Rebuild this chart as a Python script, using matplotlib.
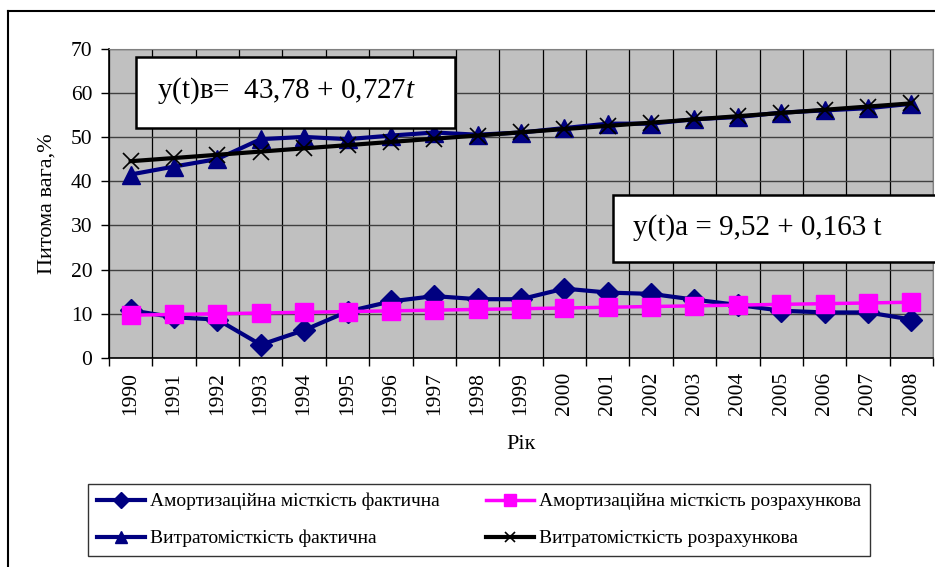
import matplotlib

matplotlib.use("Agg")
import matplotlib.pyplot as plt  # noqa: E402
from matplotlib.lines import Line2D  # noqa: E402
from matplotlib.ticker import FixedLocator  # noqa: E402

plt.rcParams["font.family"] = ["Liberation Serif", "DejaVu Serif"]
plt.rcParams["mathtext.fontset"] = "custom"
plt.rcParams["mathtext.rm"] = "Liberation Serif"
plt.rcParams["mathtext.it"] = "Liberation Serif:italic"

years = [str(y) for y in range(1990, 2009)]
amort_fact = [10.8, 9.2, 8.7, 3.0, 6.3, 10.5, 12.8, 14.0, 13.3, 13.3,
              15.7, 14.8, 14.5, 13.2, 12.0, 10.7, 10.3, 10.3, 8.7]
amort_calc = [9.68, 9.85, 10.01, 10.17, 10.34, 10.50, 10.66, 10.82, 10.99, 11.15,
              11.31, 11.48, 11.64, 11.80, 11.97, 12.13, 12.29, 12.45, 12.62]
cost_fact = [41.5, 43.3, 45.0, 49.5, 50.0, 49.5, 50.3, 51.0, 50.5, 51.0,
             52.0, 53.0, 53.0, 54.0, 54.5, 55.5, 56.0, 56.5, 57.5]
cost_calc = [44.51, 45.23, 45.96, 46.69, 47.42, 48.14, 48.87, 49.60, 50.32, 51.05,
             51.78, 52.50, 53.23, 53.96, 54.69, 55.41, 56.14, 56.87, 57.59]
yticks = [0, 10, 20, 30, 40, 50, 60, 70]

labels = [
    "Амортизаційна місткість фактична",
    "Витратомісткість фактична",
    "Амортизаційна місткість розрахункова",
    "Витратомісткість розрахункова",
]

W, H = 935, 567
fig = plt.figure(figsize=(W / 100, H / 100), dpi=100)
fig.patch.set_facecolor("white")
ax = fig.add_axes([109 / W, 1 - 358 / H, (933 - 109) / W, (358 - 48.5) / H])
ax.set_facecolor("#c0c0c0")

x = list(range(len(years)))
navy = "#000080"
l1, = ax.plot(x, amort_fact, color=navy, lw=3, marker="D", ms=11, zorder=3)
l3, = ax.plot(x, amort_calc, color="#ff00ff", lw=2.5, marker="s", ms=12.5, zorder=4)
l2, = ax.plot(x, cost_fact, color=navy, lw=3, marker="^", ms=13, zorder=3)
l4, = ax.plot(x, cost_calc, color="black", lw=3, marker="x", ms=11, mew=1.2, zorder=5)

ax.set_xlim(-0.5, len(years) - 0.5)
ax.set_ylim(0, 70)
ax.set_yticks(yticks)
ax.set_xticks(x)
ax.set_xticklabels(years, rotation=90, fontsize=15.5)
ax.xaxis.set_minor_locator(FixedLocator([i + 0.5 for i in range(-1, len(years))]))
ax.tick_params(axis="x", which="major", length=0, pad=10)
ax.tick_params(axis="x", which="minor", length=6, width=1, color="black", direction="out")
ax.tick_params(axis="y", labelsize=15.5, length=6, width=1, direction="out", pad=6)
ax.grid(axis="y", which="major", color="#404040", lw=1)
ax.grid(axis="x", which="minor", color="black", lw=0.9)
ax.set_axisbelow(True)
for side in ("top", "right"):
    ax.spines[side].set_color("#808080")
for side in ("left", "bottom"):
    ax.spines[side].set_color("black")
    ax.spines[side].set_linewidth(1.2)

ax.set_ylabel("Питома вага,%", fontsize=16, labelpad=10)
ax.set_xlabel("Рік", fontsize=16, labelpad=14)

fig.patches.append(plt.Rectangle((136 / W, 1 - 128 / H), (455 - 136) / W, (128 - 57) / H,
                                 transform=fig.transFigure, facecolor="white",
                                 edgecolor="black", lw=1.8, zorder=10))
fig.text(157 / W, 1 - 91 / H, "y(t)в=  43,78 + 0,727$t$", fontsize=21,
         va="center", ha="left", zorder=11)
fig.patches.append(plt.Rectangle((613 / W, 1 - 262 / H), (940 - 613) / W, (262 - 195) / H,
                                 transform=fig.transFigure, facecolor="white",
                                 edgecolor="black", lw=1.8, zorder=10))
fig.text(633 / W, 1 - 228 / H, "y(t)a = 9,52 + 0,163 t", fontsize=21,
         va="center", ha="left", zorder=11)

leg = fig.legend([l1, l2, l3, l4], labels, ncol=2, fontsize=14,
                 loc="upper left", bbox_to_anchor=(88 / W, 1 - 484 / H),
                 borderaxespad=0, frameon=True, fancybox=False, edgecolor="black",
                 handlelength=2.5, handletextpad=0.25, columnspacing=2.35,
                 labelspacing=1.0, borderpad=0.45, markerscale=0.7)
leg.get_frame().set_linewidth(1.0)

# outer chart frame (only left and top edges fall inside the picture)
fig.add_artist(Line2D([8 / W, 8 / W], [-0.1, 1 - 11 / H], color="black", lw=1.5))
fig.add_artist(Line2D([8 / W, 1.1], [1 - 11 / H, 1 - 11 / H], color="black", lw=1.5))

fig.savefig("out.png", dpi=100, facecolor="white")
